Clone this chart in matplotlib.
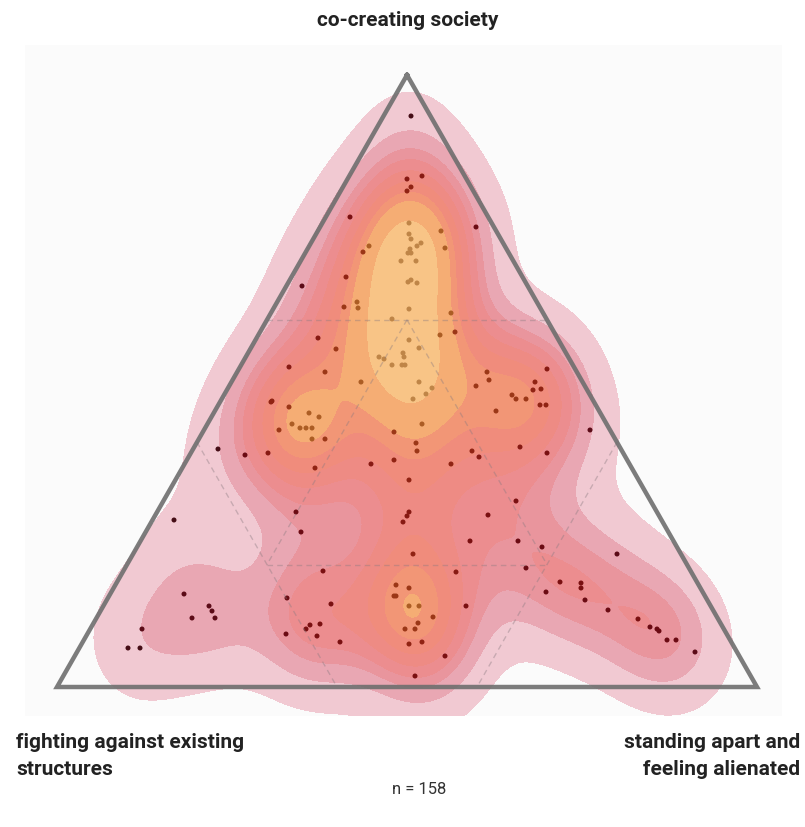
import numpy as np
import matplotlib
matplotlib.use("Agg")
import matplotlib.pyplot as plt
from matplotlib.colors import to_rgb

# respondent positions, projected onto the triangle plane
# (base runs 0..700, apex at height 612)
x_pos = [354, 350, 365, 354, 350, 293, 419, 352, 384, 312, 306, 388, 352, 354, 364, 360,
         353, 351, 354, 344, 359, 289, 351, 354, 360, 300, 287, 301, 352, 394, 335, 398,
         383, 352, 362, 346, 347, 322, 327, 335, 345, 348, 430, 432, 419, 304, 362, 375,
         369, 356, 439, 245, 261, 279, 232, 268, 215, 214, 232, 490, 478, 476, 484, 455,
         459, 469, 483, 489, 533, 415, 422, 463, 490, 459, 461, 485, 560, 252, 262, 235,
         243, 249, 255, 222, 255, 268, 161, 188, 211, 258, 239, 244, 117, 365, 337, 359,
         360, 337, 314, 394, 352, 352, 350, 346, 431, 413, 356, 127, 152, 155, 135, 158,
         85, 71, 83, 230, 229, 253, 249, 260, 266, 399, 274, 339, 352, 337, 339, 352,
         362, 409, 376, 361, 263, 348, 358, 283, 365, 352, 388, 358, 469, 503, 524, 524,
         489, 528, 551, 581, 593, 600, 602, 610, 619, 638]
y_pos = [571, 508, 511, 500, 496, 470, 460, 464, 456, 441, 435, 439, 453, 448, 444, 441,
         438, 434, 434, 426, 426, 410, 405, 407, 404, 385, 380, 379, 378, 374, 368, 355,
         352, 347, 339, 334, 330, 330, 328, 322, 322, 322, 315, 307, 301, 305, 305, 299,
         293, 288, 276, 401, 349, 338, 320, 315, 286, 285, 280, 318, 305, 297, 298, 292,
         288, 288, 282, 282, 257, 236, 230, 240, 234, 186, 146, 140, 133, 274, 270, 263,
         259, 259, 259, 257, 248, 248, 238, 232, 234, 219, 175, 155, 167, 263, 255, 244,
         236, 227, 223, 223, 207, 175, 171, 165, 172, 146, 133, 93, 81, 76, 69, 69,
         58, 39, 39, 89, 53, 62, 58, 51, 116, 115, 83, 102, 99, 91, 91, 81,
         81, 81, 70, 64, 63, 58, 58, 45, 45, 43, 31, 11, 119, 105, 104, 99,
         95, 87, 77, 68, 60, 58, 56, 47, 47, 35]

corner_labels = ["co-creating society",
                 "fighting against existing\nstructures",
                 "standing apart and\nfeeling alienated"]
n_label = "n = 158"

BASE, HEIGHT = 700.0, 612.0
BW_ADJUST = 0.82


def tern(top, right):
    # ternary shares -> plane coordinates
    return BASE * (right + top / 2.0), HEIGHT * top


def kde(pts, qx, qy, inv):
    out = np.zeros_like(qx, dtype=float)
    for px, py in zip(pts[0], pts[1]):
        dx = qx - px
        dy = qy - py
        out += np.exp(-0.5 * (inv[0, 0] * dx * dx + 2 * inv[0, 1] * dx * dy + inv[1, 1] * dy * dy))
    return out


# gaussian kde, scott bandwidth, full covariance
pts = np.vstack([x_pos, y_pos]).astype(float)
n = pts.shape[1]
cov = np.cov(pts) * (n ** (-1.0 / 6.0) * BW_ADJUST) ** 2
inv = np.linalg.inv(cov)
gx, gy = np.meshgrid(np.linspace(-200, 900, 440), np.linspace(-200, 820, 420))
dens = kde(pts, gx, gy, inv)

# iso-proportion levels like seaborn (thresh 0.05, 10 levels)
isoprop = np.linspace(0.05, 1, 10)
vals = np.sort(dens.ravel())[::-1]
cum = np.cumsum(vals) / vals.sum()
levels = np.unique(np.take(vals, np.searchsorted(cum, 1 - isoprop), mode="clip"))

band_look = ['#f1c9d2', '#e9a7b3', '#e9959d', '#ec8d8f', '#ee8b84',
             '#f08c7c', '#f29676', '#f5ad74', '#f8c486']
band_alpha = [0.25, 0.38, 0.45, 0.5, 0.55, 0.58, 0.62, 0.68, 0.75]
dot_rgb = np.array(to_rgb('#1a0404'))

# dots sit under the translucent bands: fade each one by the band it falls in
band_of_pt = np.searchsorted(levels, kde(pts, pts[0], pts[1], inv)) - 1
dot_colors = []
for b in band_of_pt:
    if b < 0:
        dot_colors.append(tuple(dot_rgb))
    else:
        b = min(b, len(band_look) - 1)
        c = np.array(to_rgb(band_look[b])) - (1 - band_alpha[b]) * (1 - dot_rgb)
        dot_colors.append(tuple(np.clip(c, 0, 1)))

W, H = 805, 827
fig = plt.figure(figsize=(W / 100, H / 100), dpi=100)
ax = fig.add_axes([25 / W, 1 - 716 / H, 757 / W, 671 / H])
ax.set_facecolor('#fbfbfb')
for s in ax.spines.values():
    s.set_visible(False)
ax.set_xticks([])
ax.set_yticks([])
ax.set_xlim(-32, 725)
ax.set_ylim(-29, 642)

ax.contourf(gx, gy, dens, levels=levels, colors=band_look[:len(levels) - 1], zorder=1)
ax.scatter(x_pos, y_pos, s=13, c=dot_colors, linewidths=0, zorder=2)

# dashed guide lines
guides = [
    (tern(0.6, 0.0), tern(0.6, 0.4)),
    (tern(0.4, 0.0), tern(0.0, 0.4)),
    (tern(0.4, 0.6), tern(0.0, 0.6)),
    (tern(0.2, 0.2), tern(0.2, 0.6)),
    (tern(0.6, 0.2), tern(0.2, 0.6)),
    (tern(0.6, 0.2), tern(0.2, 0.2)),
]
for (x0, y0), (x1, y1) in guides:
    ax.plot([x0, x1], [y0, y1], color='#8a7a80', alpha=0.4, lw=1.0,
            dashes=(4, 3), zorder=3)

tri = [tern(1, 0), tern(0, 0), tern(0, 1), tern(1, 0)]
ax.plot([p[0] for p in tri], [p[1] for p in tri], color='#6e6e6e', alpha=0.9,
        lw=3.2, solid_joinstyle='miter', zorder=5)

bold = dict(family='Roboto', fontweight='bold', fontsize=15, color='#222222')
fig.text(408 / W, 1 - 20 / H, corner_labels[0], ha='center', va='center', **bold)
fig.text(16 / W, 1 - 756 / H, corner_labels[1], ha='left', va='center',
         linespacing=1.5, **bold)
fig.text(800 / W, 1 - 756 / H, corner_labels[2], ha='right', va='center',
         linespacing=1.5, multialignment='right', **bold)
fig.text(419 / W, 1 - 790 / H, n_label, ha='center', va='center',
         family='Roboto', fontsize=12, color='#333333')

fig.savefig('out.png', dpi=100, facecolor='white')
